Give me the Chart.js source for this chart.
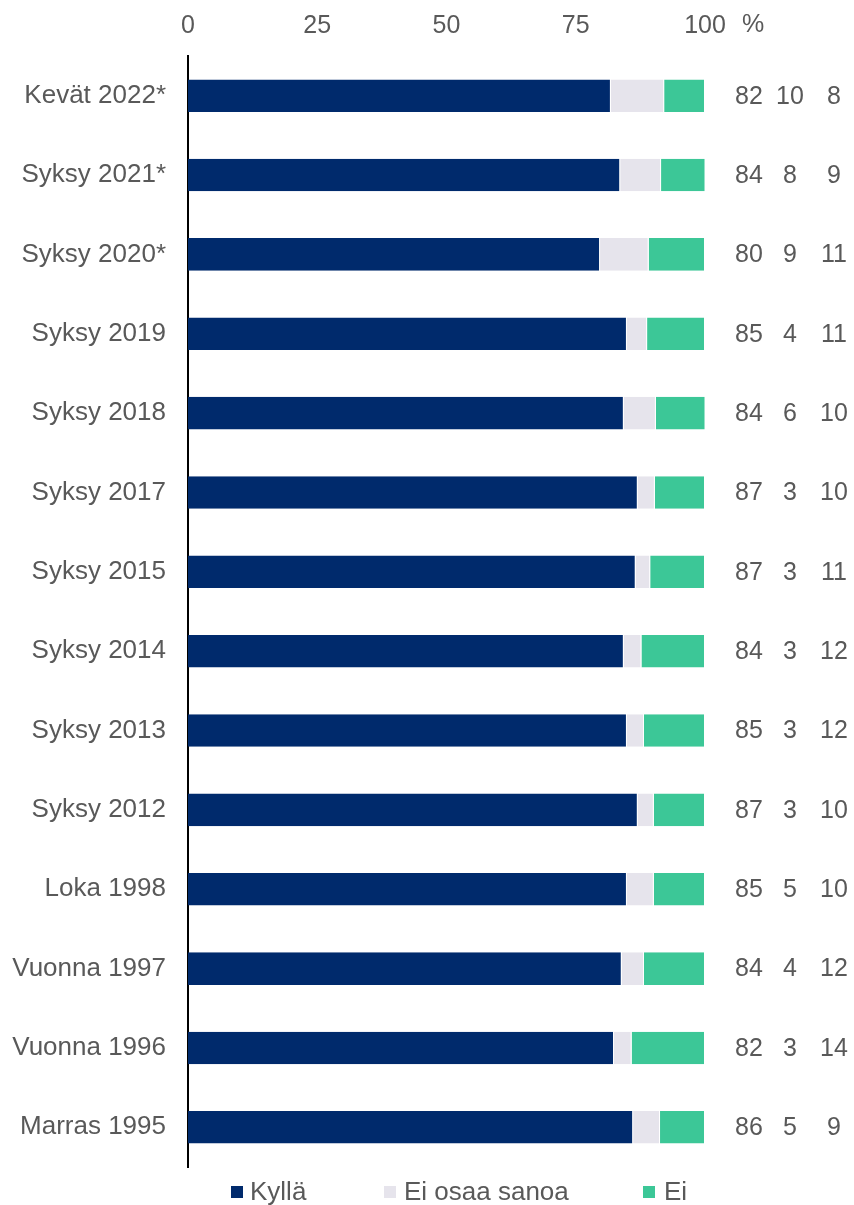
<!DOCTYPE html>
<html>
<head>
<meta charset="utf-8">
<script src="https://cdn.jsdelivr.net/npm/chart.js@4/dist/chart.umd.min.js"></script>
<style>
  html, body { margin: 0; padding: 0; background: #fff; }
  #wrap { width: 854px; height: 1205px; position: relative; }
</style>
</head>
<body>
<div id="wrap"><canvas id="chart"></canvas></div>
<script>
// Categories, top to bottom
const categories = ['Kevät 2022*', 'Syksy 2021*', 'Syksy 2020*', 'Syksy 2019', 'Syksy 2018',
    'Syksy 2017', 'Syksy 2015', 'Syksy 2014', 'Syksy 2013', 'Syksy 2012',
    'Loka 1998', 'Vuonna 1997', 'Vuonna 1996', 'Marras 1995'];

// Shares in percent
const kylla = [81.8, 83.6, 79.7, 84.9, 84.3, 87.0, 86.6, 84.3, 84.9, 87.0, 84.9, 83.9, 82.4, 86.1];
const eiOsaa = [10.3, 7.9, 9.4, 3.9, 6.2, 3.3, 2.8, 3.4, 3.3, 3.1, 5.2, 4.3, 3.4, 5.2];
const ei = [7.9, 8.6, 10.9, 11.2, 9.6, 9.7, 10.6, 12.3, 11.8, 9.9, 9.9, 11.8, 14.2, 8.7];

const seriesNames = ['Kyllä', 'Ei osaa sanoa', 'Ei'];
const seriesColors = ['#002A6C', '#E6E4EC', '#3CC797'];
const xTicks = [0, 25, 50, 75, 100];

const FONT = "'Liberation Sans', Arial, sans-serif";
const TEXT = '#595959';
const SIZE = 25;

// Draws the "%" after the axis, the value columns on the right and the legend
const extras = {
    id: 'extras',
    afterDraw(chart) {
        const ctx = chart.ctx;
        const x = chart.scales.x;
        const y = chart.scales.y;
        ctx.save();
        ctx.fillStyle = TEXT;
        ctx.font = SIZE + 'px ' + FONT;
        ctx.textBaseline = 'middle';
        ctx.textAlign = 'left';
        ctx.fillText('%', x.getPixelForValue(100) + 37, 25);

        const cols = [749, 790, 834];
        ctx.textAlign = 'center';
        categories.forEach((c, i) => {
            const py = y.getPixelForValue(i);
            [kylla, eiOsaa, ei].forEach((arr, k) => {
                ctx.fillText(String(Math.round(arr[i])), cols[k], py + 1);
            });
        });

        // legend
        const items = [[231, 250], [384, 404], [643, 664]];
        const ly = 1192;
        ctx.font = '26px ' + FONT;
        ctx.textAlign = 'left';
        seriesNames.forEach((name, k) => {
            ctx.fillStyle = seriesColors[k];
            ctx.fillRect(items[k][0], ly - 6, 12, 12);
            ctx.fillStyle = TEXT;
            ctx.fillText(name, items[k][1], ly + 1);
        });
        ctx.restore();
    }
};

new Chart(document.getElementById('chart'), {
    type: 'bar',
    data: {
        labels: categories,
        datasets: [kylla, eiOsaa, ei].map((d, k) => ({
            label: seriesNames[k],
            data: d,
            backgroundColor: seriesColors[k],
            borderColor: '#ffffff',
            borderWidth: { left: 0, right: 1, top: 0, bottom: 0 },
            borderSkipped: false,
            barPercentage: 0.82,
            categoryPercentage: 0.5
        }))
    },
    options: {
        indexAxis: 'y',
        responsive: true,
        maintainAspectRatio: false,
        animation: false,
        layout: { padding: { left: 0, right: 149, top: 0, bottom: 38 } },
        scales: {
            x: {
                position: 'top',
                stacked: true,
                min: 0,
                max: 100,
                afterBuildTicks: (scale) => { scale.ticks = xTicks.map(v => ({ value: v })); },
                afterFit: (scale) => { scale.height = 56; },
                grid: { display: false, drawTicks: false },
                border: { display: false },
                ticks: { color: TEXT, font: { size: SIZE, family: FONT }, padding: 15 }
            },
            y: {
                stacked: true,
                afterFit: (scale) => { scale.width = 188; },
                grid: { display: false, drawTicks: false },
                border: { display: true, color: '#000000', width: 2 },
                ticks: { color: TEXT, font: { size: 26, family: FONT }, padding: 22 }
            }
        },
        plugins: {
            legend: { display: false },
            tooltip: { enabled: false }
        }
    },
    plugins: [extras]
});
</script>
</body>
</html>
